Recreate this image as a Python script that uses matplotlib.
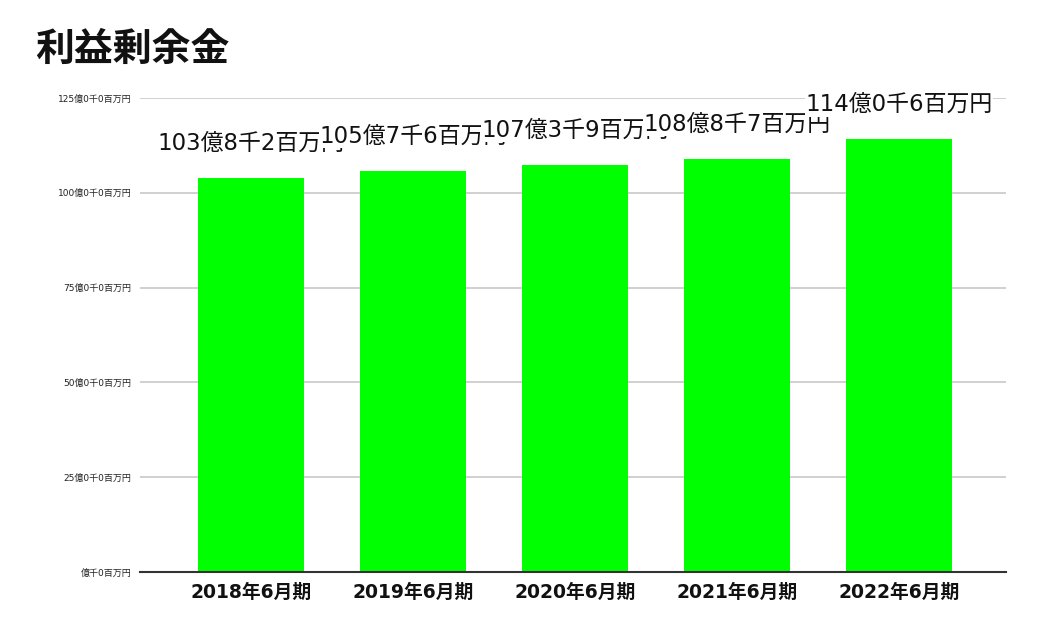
import matplotlib
matplotlib.use("Agg")
import matplotlib.pyplot as plt

plt.rcParams['font.family'] = ['DejaVu Sans', 'Noto Sans CJK JP']

categories = ["2018年6月期", "2019年6月期", "2020年6月期", "2021年6月期", "2022年6月期"]
values = [103.82, 105.76, 107.39, 108.87, 114.06]  # 億円
value_labels = ["103億8千2百万円", "105億7千6百万円", "107億3千9百万円", "108億8千7百万円", "114億0千6百万円"]
yticks = [0, 25, 50, 75, 100, 125]
ytick_labels = ["億千0百万円", "25億0千0百万円", "50億0千0百万円", "75億0千0百万円", "100億0千0百万円", "125億0千0百万円"]

fig = plt.figure(figsize=(10.38, 6.34), dpi=100)
ax = fig.add_axes([140/1038, 1 - 572/634, 866/1038, 474/634])

x = list(range(len(categories)))
ax.bar(x, values, width=0.654, color="#00ff00", zorder=2)

ax.set_ylim(0, 125)
ax.set_xlim(-0.685, 4.66)
ax.set_yticks(yticks)
ax.set_yticklabels(ytick_labels, fontsize=6.5, color="#222222")
ax.set_xticks(x)
ax.set_xticklabels(categories, fontsize=13.5, fontweight="bold", color="#111111")
ax.tick_params(axis="y", length=0, pad=6)
ax.tick_params(axis="x", length=0, pad=8)
ax.yaxis.grid(True, color="#c8c8c8", linewidth=1.2, zorder=0)
ax.set_axisbelow(True)
for s in ["top", "right", "left"]:
    ax.spines[s].set_visible(False)
ax.spines["bottom"].set_color("#333333")
ax.spines["bottom"].set_linewidth(1.5)
ax.spines["bottom"].set_zorder(3)

for i, (v, lab) in enumerate(zip(values, value_labels)):
    ax.text(i, v + 9.2, lab, ha="center", va="center", fontsize=16.5, color="#111111",
            zorder=5 + i,
            bbox=dict(facecolor="white", edgecolor="none", pad=0.3))

fig.text(35/1038, 1 - 50/634, "利益剰余金", fontsize=28, fontweight="bold", va="center", ha="left", color="#111111")

fig.savefig("out.png", dpi=100)
